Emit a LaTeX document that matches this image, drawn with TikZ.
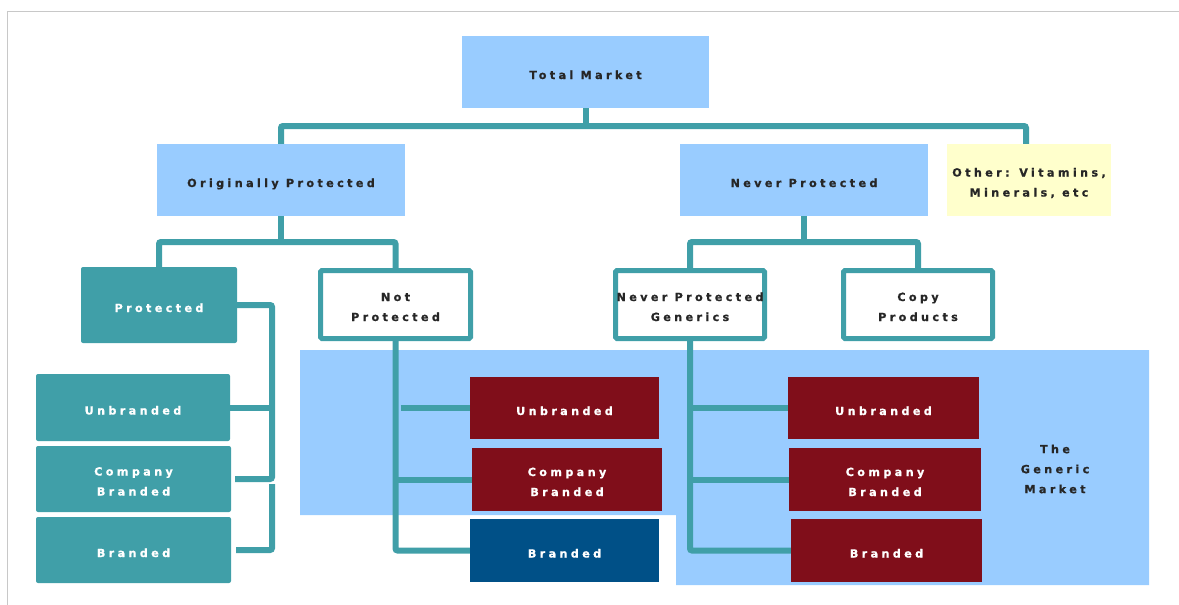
\documentclass[tikz,border=0pt]{standalone}
\usepackage{fontspec}
\setmainfont{DejaVu Sans}[LetterSpace=30, BoldFeatures={FakeBold=0.8}]
\usetikzlibrary{backgrounds}
\definecolor{mteal}{HTML}{409FA8}
\definecolor{lblue}{HTML}{99CCFF}
\definecolor{mred}{HTML}{800E1A}
\definecolor{dblue}{HTML}{005087}
\definecolor{lyel}{HTML}{FFFFCC}
\definecolor{dtext}{HTML}{262626}
\definecolor{frame}{HTML}{C8C8C8}
\newcommand\lbl{\fontsize{11.2}{20}\selectfont\bfseries}
\newcommand\twoline[2]{\raisebox{10.5pt}[16.5pt][2.5pt]{\begin{tabular}[t]{@{}c@{}}#1\\#2\end{tabular}}}
\begin{document}
\begin{tikzpicture}[x=1pt,y=-1pt,
  sz/.style 2 args={minimum width=#1, minimum height=#2},
  base/.style={rectangle, inner sep=0pt, font=\lbl, align=center,
    execute at begin node={\rule[-2.5pt]{0pt}{19pt}}},
  bluebox/.style={base, fill=lblue, text=dtext},
  yelbox/.style={base, fill=lyel, text=dtext},
  tealbox/.style={base, fill=mteal, text=white, rounded corners=2pt},
  whitebox/.style={base, fill=white, draw=mteal, line width=5pt, text=dtext, rounded corners=1.5pt},
  redbox/.style={base, fill=mred, text=white},
  dbbox/.style={base, fill=dblue, text=white},
  conn/.style={draw=mteal, line width=6pt, rounded corners=2pt},
  plain/.style={font=\lbl, text=dtext, align=center, inner sep=0pt}]
\useasboundingbox (0,0) rectangle (1179,605);
\draw[frame, line width=1.5pt] (7.5,605) -- (7.5,11.5) -- (1179,11.5);

% boxes
\node[bluebox, sz={247}{72}] (tm) at (585.5,72) {Total Market};
\node[bluebox, sz={248}{72}] (op) at (281,180) {Originally Protected};
\node[bluebox, sz={248}{72}] (np) at (804,180) {Never Protected};
\node[yelbox, sz={164}{72}] (oth) at (1029,180) {\twoline{Other: Vitamins,}{Minerals, etc}};
\node[tealbox, sz={156}{76}] (prot) at (159,305) {Protected};
\node[whitebox, sz={150}{68}] (notp) at (395.5,304.5) {\twoline{Not}{Protected}};
\node[whitebox, sz={149}{68}] (npg) at (690,304.5) {\twoline{Never Protected}{Generics}};
\node[whitebox, sz={149}{68}] (copy) at (918,304.5) {\twoline{Copy}{Products}};

\node[tealbox, sz={194}{67}] (ub1) at (133,407.5) {Unbranded};
\node[tealbox, sz={195}{66}] (cb1) at (133.5,479) {\twoline{Company}{Branded}};
\node[tealbox, sz={195}{66}] (br1) at (133.5,550) {Branded};

\node[redbox, sz={189}{62}] (ub2) at (564.5,408) {Unbranded};
\node[redbox, sz={190}{63}] (cb2) at (567,479.5) {\twoline{Company}{Branded}};
\node[dbbox, sz={189}{63}] (br2) at (564.5,550.5) {Branded};

\node[redbox, sz={191}{62}] (ub3) at (883.5,408) {Unbranded};
\node[redbox, sz={192}{63}] (cb3) at (885,479.5) {\twoline{Company}{Branded}};
\node[redbox, sz={191}{63}] (br3) at (886.5,550.5) {Branded};

\node[plain] (gm) at (1055,469) {The\\Generic\\Market};

\coordinate (j1) at (585.5,126);
\coordinate (j2) at (281,242);
\coordinate (j3) at (804,242);
\coordinate (pb) at (272,479);
\coordinate (pc) at (272,484);

\begin{pgfonlayer}{background}
\fill[lblue] (300,350) -- (1149,350) -- (1149,585) -- (676,585) -- (676,515) -- (300,515) -- cycle;
% top level
\draw[conn] (tm.south) -- (j1);
\draw[conn] (op.north) |- (j1) -| ([xshift=-3pt]oth.north);
% originally protected
\draw[conn] (op.south) -- (j2);
\draw[conn] (prot.north) |- (j2) -| (notp.north);
% never protected
\draw[conn] (np.south) -- (j3);
\draw[conn] (npg.north) |- (j3) -| (copy.north);
% protected bracket
\draw[conn] (prot.east) -| (pb) -- ([xshift=4pt]cb1.east);
\draw[conn] (ub1.east) -- (ub1.east -| pb);
\draw[conn] (pc) |- ([xshift=5pt]br1.east);
% not protected
\draw[conn] (notp.south) |- (br2.west);
\draw[conn] ([xshift=5pt]ub2.west -| notp.south) -- (ub2.west);
\draw[conn] (cb2.west -| notp.south) -- (cb2.west);
% never protected generics
\draw[conn] (npg.south) |- (br3.west);
\draw[conn] (ub3.west -| npg.south) -- (ub3.west);
\draw[conn] (cb3.west -| npg.south) -- (cb3.west);
\end{pgfonlayer}
\end{tikzpicture}
\end{document}
